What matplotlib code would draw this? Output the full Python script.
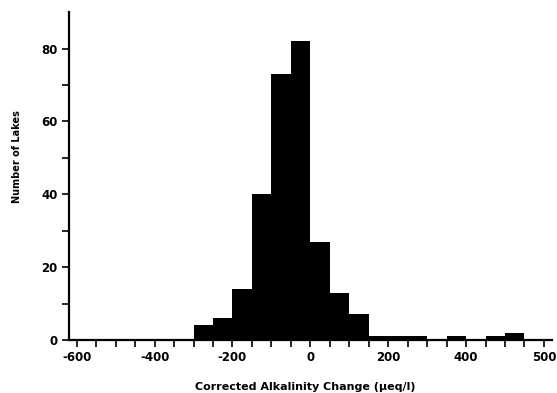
import matplotlib
matplotlib.use("Agg")
import matplotlib.pyplot as plt
import numpy as np

# histogram data
bin_edges = np.arange(-300, 551, 50)
counts = [4, 6, 14, 40, 73, 82, 27, 13, 7, 1, 1, 1, 0, 1, 0, 1, 2]

xtick_pos = [-600, -400, -200, 0, 200, 400, 600]
xtick_labels = ["-600", "-400", "-200", "0", "200", "400", "500"]
ytick_pos = [0, 20, 40, 60, 80]

plt.rcParams["font.family"] = "DejaVu Sans"
plt.rcParams["font.weight"] = "bold"

fig = plt.figure(figsize=(5.57, 3.93), dpi=100)
ax = fig.add_axes([0.1245, 0.135, 0.866, 0.834])

ax.bar(bin_edges[:-1], counts, width=50, align="edge", color="black", linewidth=0)

ax.set_xlim(-619, 620)
ax.set_ylim(0, 90)

ax.spines["top"].set_visible(False)
ax.spines["right"].set_visible(False)
ax.spines["left"].set_linewidth(1.6)
ax.spines["bottom"].set_linewidth(1.6)

ax.set_xticks(xtick_pos, xtick_labels)
ax.set_xticks(np.arange(-600, 601, 50), minor=True)
ax.set_yticks(ytick_pos)
ax.set_yticks(np.arange(10, 90, 20), minor=True)
ax.tick_params(axis="both", which="major", length=5, width=1.2, labelsize=8.5)
ax.tick_params(axis="both", which="minor", length=5, width=1.2)
ax.tick_params(axis="x", pad=3)

ax.set_xlabel("Corrected Alkalinity Change (\u00b5eq/l)", fontsize=8, fontweight="bold")
ax.xaxis.set_label_coords(0.49, -0.127)
ax.set_ylabel("Number of Lakes", fontsize=7, fontweight="bold")
ax.yaxis.set_label_coords(-0.098, 0.56)

fig.savefig("out.png", dpi=100)
